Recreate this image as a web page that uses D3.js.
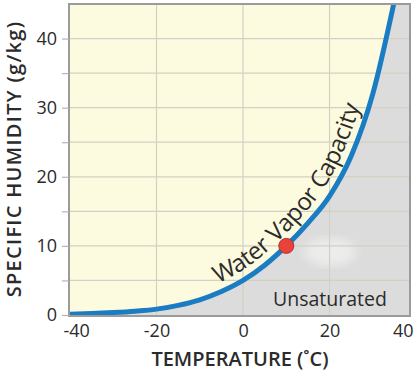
<!DOCTYPE html>
<html>
<head>
<meta charset="utf-8">
<script src="https://cdn.jsdelivr.net/npm/d3@7"></script>
<style>
  body { margin: 0; background: #fff; }
  text { font-family: "Open Sans", "Noto Sans", sans-serif; fill: #2b2b2b; }
</style>
</head>
<body>
<svg id="chart" width="417" height="376"></svg>
<script>
// saturation curve
const temps = [-40, -35, -30, -25, -20, -15, -10, -5, 0, 5, 10, 15, 20, 25, 30, 35];
const capacity = [0.1, 0.2, 0.35, 0.55, 0.85, 1.4, 2.2, 3.4, 5.0, 7.2, 10.0, 13.3, 17.2, 23.0, 32.0, 45.5];
const xTicks = [-40, -20, 0, 20, 40];
const yTicks = [0, 5, 10, 15, 20, 25, 30, 35, 40];
const xGrid = [-20, 0, 20];
const yGrid = [5, 10, 15, 20, 25, 30, 35, 40];
const marker = { t: 10, q: 10 };

const curveData = temps.map((t, i) => ({ t: t, q: capacity[i] }));

const svg = d3.select("#chart");

const x = d3.scaleLinear().domain([-40, 38.6]).range([70, 410]);
const y = d3.scaleLinear().domain([0, 45]).range([315, 4]);

const pLeft = 69, pRight = 410, pTop = 4, pBottom = 316;

svg.append("clipPath").attr("id", "plotClip")
    .append("rect")
    .attr("x", pLeft).attr("y", pTop)
    .attr("width", pRight - pLeft).attr("height", pBottom - pTop);

const plot = svg.append("g").attr("clip-path", "url(#plotClip)");

// unsaturated (grey) background, then the yellow region above the curve
plot.append("rect")
    .attr("x", pLeft).attr("y", pTop)
    .attr("width", pRight - pLeft).attr("height", pBottom - pTop)
    .attr("fill", "#dcdcdc");

const aboveArea = d3.area()
    .x(d => x(d.t))
    .y0(pTop)
    .y1(d => y(d.q))
    .curve(d3.curveMonotoneX);

plot.append("path")
    .datum([{ t: -40.5, q: capacity[0] }].concat(curveData))
    .attr("d", aboveArea)
    .attr("fill", "#fdfbdf");

// smudge left in the picture
const defs = svg.append("defs");
defs.append("filter").attr("id", "blur")
    .append("feGaussianBlur").attr("stdDeviation", 5);
plot.append("ellipse")
    .attr("cx", 330).attr("cy", 252).attr("rx", 26).attr("ry", 14)
    .attr("fill", "#ececec").attr("filter", "url(#blur)");

// grid
plot.selectAll(".hgrid").data(yGrid).enter().append("line")
    .attr("x1", pLeft).attr("x2", pRight)
    .attr("y1", d => y(d)).attr("y2", d => y(d))
    .attr("stroke", "#d2d0c2").attr("stroke-width", 1.2);

plot.selectAll(".vgrid").data(xGrid).enter().append("line")
    .attr("x1", d => x(d)).attr("x2", d => x(d))
    .attr("y1", pTop).attr("y2", pBottom)
    .attr("stroke", "#d2d0c2").attr("stroke-width", 1.2);

// capacity curve
const line = d3.line()
    .x(d => x(d.t))
    .y(d => y(d.q))
    .curve(d3.curveMonotoneX);

const curvePath = plot.append("path")
    .datum(curveData)
    .attr("id", "capCurve")
    .attr("d", line)
    .attr("fill", "none")
    .attr("stroke", "#1a7cc3")
    .attr("stroke-width", 5)
    .attr("stroke-linecap", "round");

// frame
svg.append("rect")
    .attr("x", pLeft).attr("y", pTop)
    .attr("width", pRight - pLeft).attr("height", pBottom - pTop)
    .attr("fill", "none")
    .attr("stroke", "#9b9b9b")
    .attr("stroke-width", 2);

// marker dot
svg.append("circle")
    .attr("cx", x(marker.t)).attr("cy", y(marker.q))
    .attr("r", 7.5)
    .attr("fill", "#e8433a")
    .attr("stroke", "#b3302a")
    .attr("stroke-width", 1);

// label along the curve
const node = curvePath.node();
const total = node.getTotalLength();
let lo = 0, hi = total;
for (let i = 0; i < 30; i++) {
    const mid = (lo + hi) / 2;
    if (node.getPointAtLength(mid).x < 222) lo = mid; else hi = mid;
}
svg.append("text")
    .attr("font-size", 24)
    .attr("dy", -9)
    .append("textPath")
    .attr("href", "#capCurve")
    .attr("startOffset", lo)
    .text("Water Vapor Capacity");

svg.append("text")
    .attr("x", 330).attr("y", 306)
    .attr("text-anchor", "middle")
    .attr("font-size", 19.5)
    .text("Unsaturated");

// y axis
const yAxis = d3.axisLeft(y)
    .tickValues(yTicks)
    .tickSize(7)
    .tickPadding(5)
    .tickFormat(d => d % 10 === 0 ? String(d) : "");

const gy = svg.append("g")
    .attr("transform", `translate(${pLeft},0)`)
    .call(yAxis);
gy.select(".domain").remove();
gy.selectAll(".tick line").attr("stroke", "#b5b5b5").attr("stroke-width", 1.2);
gy.selectAll(".tick text")
    .attr("font-size", 18)
    .attr("font-family", "'Open Sans', sans-serif")
    .attr("fill", "#2b2b2b");

// x axis
const xAxis = d3.axisBottom(x)
    .tickValues(xTicks)
    .tickSize(0)
    .tickPadding(8)
    .tickFormat(d => String(d));

const gx = svg.append("g")
    .attr("transform", `translate(0,${pBottom})`)
    .call(xAxis);
gx.select(".domain").remove();
gx.selectAll(".tick text")
    .attr("font-size", 18)
    .attr("font-family", "'Open Sans', sans-serif")
    .attr("fill", "#2b2b2b")
    .attr("text-anchor", d => d === -40 ? "start" : (d === 40 ? "end" : "middle"))
    .attr("dx", d => d === -40 ? -7 : (d === 40 ? -3 : 0));

// axis titles
svg.append("text")
    .attr("x", 240).attr("y", 366)
    .attr("text-anchor", "middle")
    .attr("font-size", 20)
    .attr("font-weight", 600)
    .text("TEMPERATURE (\u02DAC)");

svg.append("text")
    .attr("transform", "translate(21,159) rotate(-90)")
    .attr("text-anchor", "middle")
    .attr("font-size", 20)
    .attr("font-weight", 600)
    .attr("letter-spacing", 1.3)
    .text("SPECIFIC HUMIDITY (g/kg)");
</script>
</body>
</html>
